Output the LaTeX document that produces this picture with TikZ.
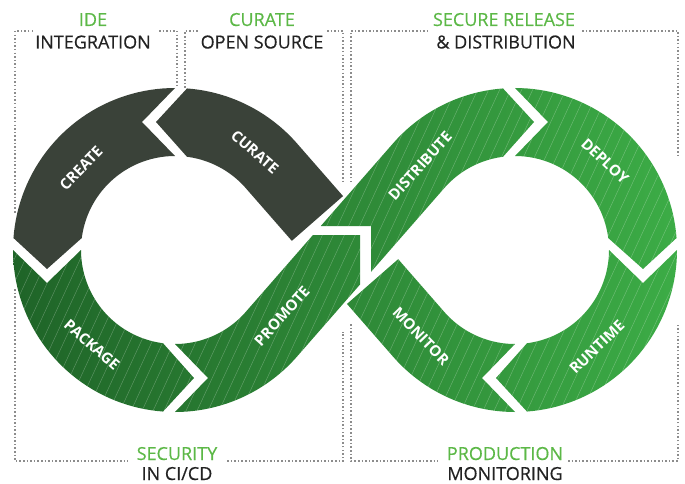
\documentclass[tikz,border=0pt]{standalone}
\usepackage{fontspec}
\setmainfont{Open Sans}
\newfontfamily\semib{Open Sans}[FakeBold=0.45]
\usetikzlibrary{calc}
\definecolor{darkseg}{HTML}{3A4239}
\definecolor{gA}{HTML}{1F6428}
\definecolor{gB}{HTML}{3CAC46}
\definecolor{titlegreen}{HTML}{5CB847}
\definecolor{titleblack}{HTML}{222222}
\definecolor{dotgray}{HTML}{8C8C8C}
\tikzset{
  seglabel/.style={text=white, font=\bfseries\fontsize{15}{17}\selectfont, inner sep=0pt},
  ttlgreen/.style={text=titlegreen, font=\semib\fontsize{18}{20}\selectfont, inner sep=0pt, anchor=base},
  ttlblack/.style={text=titleblack, font=\semib\fontsize{18}{20}\selectfont, inner sep=0pt, anchor=base},
  dotline/.style={draw=dotgray, line width=1.5pt, dash pattern=on 1.5pt off 2.1pt},
  hatch/.style={draw=white, opacity=0.28, line width=0.45pt},
  arcs/.style={samples=40, variable=\t}
}
\begin{document}
\begin{tikzpicture}[x=1pt,y=-1pt]
\useasboundingbox (0,0) rectangle (685,484);

% ---------- dotted brackets ----------
\draw[dotline] (33,31) -- (15,31) -- (15,213);
\draw[dotline] (159,31) -- (177,31) -- (177,88);
\draw[dotline] (185,88) -- (185,31) -- (200,31);
\draw[dotline] (327,31) -- (343,31) -- (343,182);
\draw[dotline] (351,182) -- (351,31) -- (428,31);
\draw[dotline] (582,31) -- (678,31) -- (678,157);
\draw[dotline] (15,289) -- (15,461) -- (128,461);
\draw[dotline] (227,461) -- (343,461) -- (343,332);
\draw[dotline] (351,324) -- (351,461) -- (438,461);
\draw[dotline] (568,461) -- (678,461) -- (678,323);

% ---------- green segments ----------
\shade[left color=gA, right color=gB,
  path picture={\foreach \k in {-220,-209,...,700} \draw[hatch] (\k,480) -- ++(200,-432);}]
  % PACKAGE
  plot[arcs, domain=180:94.24]({175+162*cos(\t)},{250+162*sin(\t)}) -- (194,378)
  -- plot[arcs, domain=97.31:180]({175+94*cos(\t)},{250+94*sin(\t)}) -- (47,283) -- cycle
  % PROMOTE
  plot[arcs, domain=90:41.16]({175+162*cos(\t)},{250+162*sin(\t)}) -- (360,284.5) -- (360,235) -- (312.95,235)
  -- plot[arcs, domain=41.16:90]({175+94*cos(\t)},{250+94*sin(\t)}) -- (208,378) -- cycle
  % DISTRIBUTE
  (320.8,226) -- (371,226) -- (371,271.9)
  -- plot[arcs, domain=221.16:262.69]({515+94*cos(\t)},{250+94*sin(\t)}) -- (534,122)
  -- plot[arcs, domain=265.76:221.16]({515+162*cos(\t)},{250+162*sin(\t)}) -- cycle
  % DEPLOY
  plot[arcs, domain=270:355.76]({515+162*cos(\t)},{250+162*sin(\t)}) -- (643,269)
  -- plot[arcs, domain=352.69:270]({515+94*cos(\t)},{250+94*sin(\t)}) -- (548,122) -- cycle
  % RUNTIME
  plot[arcs, domain=0:85.76]({515+162*cos(\t)},{250+162*sin(\t)}) -- (496,378)
  -- plot[arcs, domain=82.69:0]({515+94*cos(\t)},{250+94*sin(\t)}) -- (643,283) -- cycle
  % MONITOR
  plot[arcs, domain=90:138.84]({515+162*cos(\t)},{250+162*sin(\t)}) -- (346.98,303.92) -- (398.17,259.16)
  -- plot[arcs, domain=138.84:90]({515+94*cos(\t)},{250+94*sin(\t)}) -- (482,378) -- cycle;

% ---------- dark segments ----------
\fill[darkseg]
  % CREATE
  plot[arcs, domain=270:184.24]({175+162*cos(\t)},{250+162*sin(\t)}) -- (47,269)
  -- plot[arcs, domain=187.31:270]({175+94*cos(\t)},{250+94*sin(\t)}) -- (142,122) -- cycle
  % CURATE
  (343.02,196.08) -- plot[arcs, domain=-41.16:-85.76]({175+162*cos(\t)},{250+162*sin(\t)}) -- (156,122)
  -- plot[arcs, domain=-82.69:-41.16]({175+94*cos(\t)},{250+94*sin(\t)}) -- (291.83,240.84) -- cycle;

% ---------- segment labels ----------
\node[seglabel, rotate=46]  (lcreate)  at (81,168)  {CREATE};
\node[seglabel, rotate=-41] (lcurate)  at (255,152) {CURATE};
\node[seglabel, rotate=-41] (lpackage) at (92,345)  {PACKAGE};
\node[seglabel, rotate=48]  (lpromote) at (282,316) {PROMOTE};
\node[seglabel, rotate=48]  (ldistrib) at (420,166) {DISTRIBUTE};
\node[seglabel, rotate=-43] (ldeploy)  at (605,161) {DEPLOY};
\node[seglabel, rotate=44]  (lruntime) at (597,347) {RUNTIME};
\node[seglabel, rotate=-46] (lmonitor) at (421,336) {MONITOR};

% ---------- titles ----------
\node[ttlgreen] (ideA) at (93,26)   {IDE};
\node[ttlblack] (ideB) at (93,48.5) {INTEGRATION};
\node[ttlgreen] (curA) at (262,26)  {CURATE};
\node[ttlblack] (curB) at (262,48.5) {OPEN SOURCE};
\node[ttlgreen] (secA) at (504,26)  {SECURE RELEASE};
\node[ttlblack] (secB) at (506,48.5) {\& DISTRIBUTION};
\node[ttlgreen] (ciA)  at (177,460) {SECURITY};
\node[ttlblack] (ciB)  at (177,480) {IN CI/CD};
\node[ttlgreen] (prA)  at (505,460) {PRODUCTION};
\node[ttlblack] (prB)  at (505,480) {MONITORING};
\end{tikzpicture}
\end{document}
